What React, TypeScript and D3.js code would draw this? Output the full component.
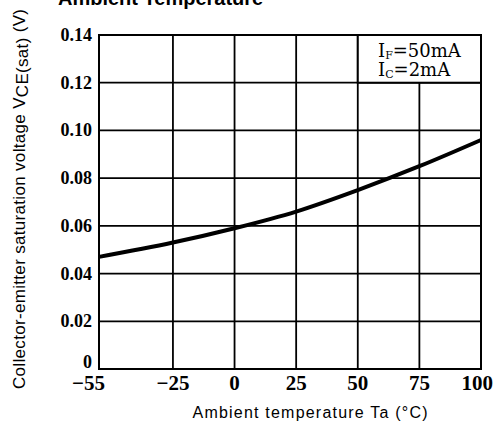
import React from "react";
import * as d3 from "d3";

const temps = [-55, -25, 0, 25, 50, 75, 100];
const vce = [0.047, 0.053, 0.059, 0.066, 0.075, 0.085, 0.096];
const xTicks = [-55, -25, 0, 25, 50, 75, 100];
const xTickLabels = ["\u221255", "\u221225", "0", "25", "50", "75", "100"];
const yTicks = [0, 0.02, 0.04, 0.06, 0.08, 0.1, 0.12, 0.14];
const yTickLabels = ["0", "0.02", "0.04", "0.06", "0.08", "0.10", "0.12", "0.14"];

const W = 499;
const H = 434;
const L = 99, R = 481, T = 35, B = 369;

export default function App() {
  const x = d3.scaleLinear().domain([-55, 100]).range([L, R]);
  const y = d3.scaleLinear().domain([0, 0.14]).range([B, T]);
  const line = d3
    .line<number>()
    .x((_, i) => x(temps[i]))
    .y((d) => y(d))
    .curve(d3.curveMonotoneX);

  const serif = "'Liberation Serif', 'Times New Roman', serif";
  const sans = "'Liberation Sans', Arial, sans-serif";

  return (
    <svg
      width={W}
      height={H}
      style={{ position: "absolute", left: 0, top: 0, background: "#fff" }}
    >
      <rect x={0} y={0} width={W} height={H} fill="#fff" />
      {/* cut-off title */}
      <text x={58} y={5} fontFamily={sans} fontWeight="bold" fontSize={20} fill="#000">
        Ambient Temperature
      </text>

      {/* grid */}
      {yTicks.slice(1, -1).map((t) => (
        <line key={"h" + t} x1={L} x2={R} y1={y(t)} y2={y(t)} stroke="#000" strokeWidth={1.8} />
      ))}
      {xTicks.slice(1, -1).map((t) => (
        <line key={"v" + t} x1={x(t)} x2={x(t)} y1={T} y2={B} stroke="#000" strokeWidth={1.8} />
      ))}
      <rect x={L} y={T} width={R - L} height={B - T} fill="none" stroke="#000" strokeWidth={2} />

      {/* legend box */}
      <rect
        x={x(50)}
        y={T}
        width={x(100) - x(50)}
        height={y(0.12) - T}
        fill="#fff"
        stroke="#000"
        strokeWidth={2}
      />
      <text x={378} y={57} fontFamily="'DejaVu Serif', serif" fontSize={18} fill="#000">
        I<tspan fontSize={11} dy={2}>F</tspan>
        <tspan dy={-2}>=50mA</tspan>
      </text>
      <text x={378} y={76} fontFamily="'DejaVu Serif', serif" fontSize={18} fill="#000">
        I<tspan fontSize={11} dy={2}>C</tspan>
        <tspan dy={-2}>=2mA</tspan>
      </text>

      {/* curve */}
      <path d={line(vce) || ""} fill="none" stroke="#000" strokeWidth={4} />

      {/* y tick labels */}
      {yTicks.map((t, i) => (
        <text
          key={"yl" + t}
          x={92}
          y={i === 0 ? y(t) - 1 : y(t) + 6}
          textAnchor="end"
          fontFamily={serif}
          fontWeight="bold"
          fontSize={18}
          fill="#000"
        >
          {yTickLabels[i]}
        </text>
      ))}

      {/* x tick labels */}
      {xTicks.map((t, i) => {
        let xx = x(t);
        let anchor: "middle" | "end" = "middle";
        if (i === 0) { xx = x(t) + 6; anchor = "end"; }
        if (i === xTicks.length - 1) { xx = x(t) + 12; anchor = "end"; }
        return (
          <text
            key={"xl" + t}
            x={xx}
            y={B + 21}
            textAnchor={anchor}
            fontFamily={serif}
            fontWeight="bold"
            fontSize={21}
            fill="#000"
          >
            {xTickLabels[i]}
          </text>
        );
      })}

      {/* x axis title */}
      <text
        x={310}
        y={418}
        textAnchor="middle"
        fontFamily={sans}
        fontSize={16}
        textLength={235}
        lengthAdjust="spacing"
        fill="#000"
      >
        Ambient temperature Ta (°C)
      </text>

      {/* y axis title */}
      <text
        transform={`translate(25, ${199}) rotate(-90)`}
        textAnchor="middle"
        fontFamily={sans}
        fontSize={17}
        textLength={380}
        lengthAdjust="spacing"
        fill="#000"
      >
        Collector-emitter saturation voltage V
        <tspan dy={3}>CE(sat)</tspan>
        <tspan dy={-3}> (V)</tspan>
      </text>
    </svg>
  );
}
